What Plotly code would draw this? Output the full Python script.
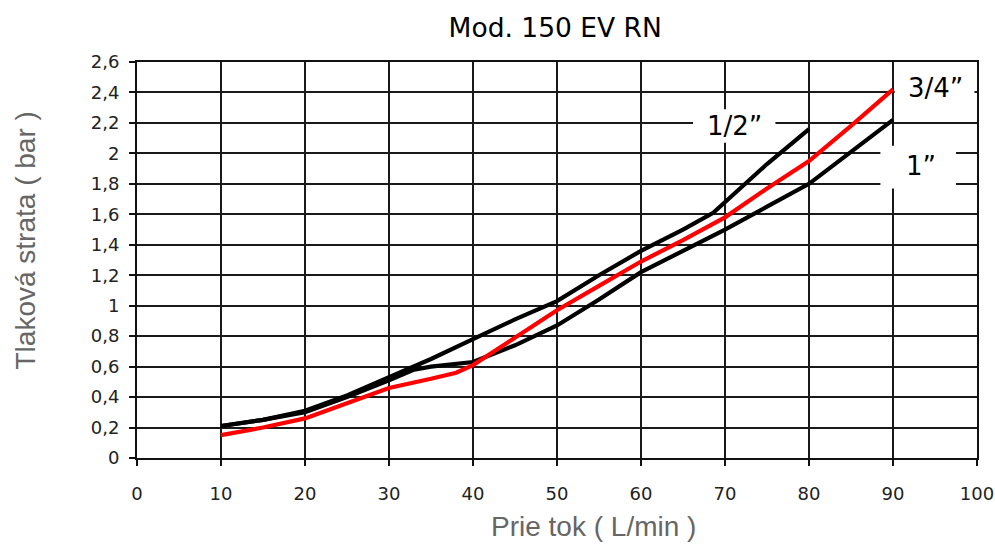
import plotly.graph_objects as go

# ---- data ----
x_half = [10, 15, 20, 25, 30, 35, 40, 45, 50, 55, 60, 65, 68.6, 75, 80]
y_half = [0.21, 0.25, 0.31, 0.41, 0.53, 0.65, 0.78, 0.91, 1.03, 1.20, 1.36, 1.50, 1.61, 1.93, 2.16]

x_3q = [10, 15, 20, 25, 30, 35, 38, 40, 43, 45, 47, 50, 55, 60, 65, 70, 75, 80, 85, 90]
y_3q = [0.15, 0.20, 0.26, 0.36, 0.46, 0.52, 0.56, 0.61, 0.72, 0.79, 0.86, 0.97, 1.13, 1.29, 1.43, 1.58, 1.77, 1.95, 2.18, 2.42]

x_1 = [10, 15, 20, 25, 30, 33, 35, 40, 45, 50, 55, 60, 65, 70, 75, 80, 85, 90]
y_1 = [0.21, 0.25, 0.30, 0.40, 0.51, 0.58, 0.60, 0.63, 0.74, 0.87, 1.04, 1.22, 1.36, 1.50, 1.65, 1.80, 2.01, 2.22]

x_ticks = [0, 10, 20, 30, 40, 50, 60, 70, 80, 90, 100]
y_ticks = [0, 0.2, 0.4, 0.6, 0.8, 1.0, 1.2, 1.4, 1.6, 1.8, 2.0, 2.2, 2.4, 2.6]
y_ticktext = ["0", "0,2", "0,4", "0,6", "0,8", "1", "1,2", "1,4", "1,6", "1,8", "2", "2,2", "2,4", "2,6"]

title = "Mod. 150 EV RN"
x_title = "Prie tok ( L/min )"
y_title = "Tlaková strata ( bar )"
labels = ["1/2\u201d", "3/4\u201d", "1\u201d"]

fig = go.Figure()
fig.add_trace(go.Scatter(x=x_1, y=y_1, mode="lines", line=dict(color="#000000", width=4.2), name=labels[2]))
fig.add_trace(go.Scatter(x=x_half, y=y_half, mode="lines", line=dict(color="#000000", width=4.2), name=labels[0]))
fig.add_trace(go.Scatter(x=x_3q, y=y_3q, mode="lines", line=dict(color="#ff0000", width=4.2), name=labels[1]))

# white boxes behind curve labels (between gridlines and traces)
boxes = [(66.2, 76.0, 2.07, 2.29), (90.2, 99.7, 2.33, 2.52), (88.5, 97.5, 1.77, 2.05)]
for x0, x1, y0, y1 in boxes:
    fig.add_shape(type="rect", x0=x0, x1=x1, y0=y0, y1=y1, xref="x", yref="y",
                  fillcolor="white", line=dict(width=0), layer="between")

lab_font = dict(family="DejaVu Sans, Verdana, sans-serif", size=26, color="#000")
fig.add_annotation(x=71.1, y=2.18, text=labels[0], showarrow=False, font=lab_font)
fig.add_annotation(x=95.0, y=2.43, text=labels[1], showarrow=False, font=lab_font)
fig.add_annotation(x=93.3, y=1.92, text=labels[2], showarrow=False, font=lab_font)

# axis titles as annotations
fig.add_annotation(x=-0.133, y=0.55, xref="paper", yref="paper", text=y_title,
                   textangle=-90, showarrow=False, xanchor="center", yanchor="middle",
                   font=dict(family="Liberation Sans, Arial, sans-serif", size=28, color="#666"))
fig.add_annotation(x=0.543, y=-0.174, xref="paper", yref="paper", text=x_title,
                   showarrow=False, xanchor="center", yanchor="middle",
                   font=dict(family="Liberation Sans, Arial, sans-serif", size=28, color="#666"))

tick_font = dict(family="DejaVu Sans, Verdana, sans-serif", size=18, color="#222")
axis_common = dict(showline=True, linecolor="#111", linewidth=2, mirror=True,
                   showgrid=True, gridcolor="#1a1a1a", gridwidth=2,
                   ticks="outside", ticklen=6, tickcolor="#111", tickwidth=2,
                   zeroline=False, tickfont=tick_font, automargin=False)

fig.update_xaxes(range=[0, 100], tickvals=x_ticks, ticktext=[str(v) for v in x_ticks],
                 ticklabelstandoff=12, **axis_common)
fig.update_yaxes(range=[0, 2.6], tickvals=y_ticks, ticktext=y_ticktext,
                 ticklabelstandoff=6, **axis_common)

fig.update_layout(
    width=995, height=545,
    margin=dict(l=137, r=18, t=62, b=87),
    paper_bgcolor="white", plot_bgcolor="white",
    showlegend=False,
    title=dict(text=title, x=0.558, xanchor="center", y=0.949, yanchor="middle",
               font=dict(family="DejaVu Sans, Verdana, sans-serif", size=26.5, color="#000")),
)

fig.write_html("out.html", config={"displayModeBar": False},
               post_script="document.body.style.margin='0';document.body.style.padding='0';")
